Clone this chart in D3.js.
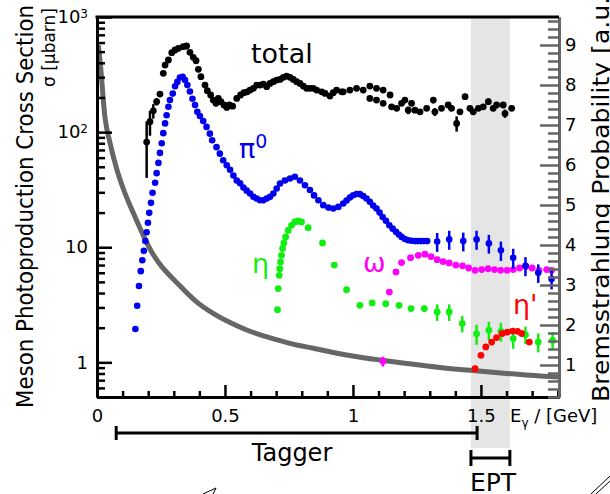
<!DOCTYPE html>
<html>
<head>
<meta charset="utf-8">
<script src="https://cdn.jsdelivr.net/npm/d3@7"></script>
<style>
  body { margin: 0; background: #fff; }
  text { font-family: "DejaVu Sans", sans-serif; }
</style>
</head>
<body>
<svg id="chart" width="610" height="494"></svg>
<script>
// DATA (E in GeV, sigma in microbarn)
const totalE = [0.194,0.207,0.220,0.233,0.246,0.259,0.266,0.279,0.292,0.305,0.318,0.337,0.350,0.363,0.376,0.387,0.396,0.406,0.422,0.431,0.444,0.454,0.465,0.474,0.484,0.496,0.507,0.517,0.530,0.546,0.561,0.574,0.587,0.598,0.611,0.624,0.637,0.650,0.663,0.676,0.689,0.702,0.715,0.728,0.741,0.754,0.767,0.780,0.793,0.806,0.819,0.832,0.845,0.858,0.878,0.891,0.910,0.923,0.936,0.956,0.962,0.988,1.014,1.040,1.066,1.066,1.092,1.092,1.118,1.118,1.145,1.151,1.171,1.190,1.203,1.216,1.229,1.242,1.262,1.288,1.314,1.320,1.346,1.372,1.385,1.405,1.418,1.438,1.457,1.470,1.490,1.509,1.529,1.548,1.561,1.587,1.594,1.620];
const totalS = [82,123,153,184,214,324,382,423,490,517,534,552,560,493,446,417,351,303,256,229,210,190,178,196,184,172,164,172,168,196,210,220,224,232,240,256,256,261,248,265,274,283,287,299,307,299,287,274,265,251,240,240,240,232,224,217,206,220,232,224,224,232,240,232,251,196,240,190,232,178,210,166,161,178,190,155,178,155,150,161,190,150,161,172,161,119,150,203,161,150,161,166,184,161,172,172,145,161];
const totalErr = [42,30,22,14,10,12,12,12,14,14,14,14,14,14,12,12,10,10,8,8,8,8,8,8,8,8,8,8,8,8,8,8,8,8,8,8,8,8,8,8,8,8,8,8,8,8,8,8,8,8,8,8,8,8,8,8,8,8,8,8,8,8,8,8,8,8,8,8,8,8,8,8,8,8,8,12,8,8,8,8,12,12,8,8,8,18,8,12,8,8,8,8,12,8,8,8,12,8];

const pi0E = [0.150,0.157,0.164,0.171,0.177,0.183,0.189,0.194,0.199,0.204,0.211,0.217,0.227,0.233,0.240,0.246,0.253,0.259,0.266,0.272,0.279,0.285,0.296,0.305,0.314,0.324,0.335,0.344,0.353,0.363,0.373,0.383,0.392,0.402,0.415,0.428,0.441,0.450,0.467,0.480,0.493,0.507,0.520,0.533,0.546,0.559,0.572,0.585,0.598,0.611,0.624,0.637,0.650,0.663,0.676,0.689,0.702,0.715,0.734,0.754,0.773,0.793,0.8125,0.832,0.848,0.865,0.884,0.904,0.923,0.943,0.962,0.975,0.988,1.001,1.014,1.027,1.040,1.053,1.066,1.079,1.092,1.104,1.116,1.129,1.142,1.155,1.168,1.179,1.190,1.203,1.216,1.229,1.242,1.253,1.264,1.277,1.290,1.329,1.376,1.431,1.483,1.531,1.578,1.626,1.674,1.724,1.776];
const pi0S = [1.95,3.1,4.6,6.2,7.7,9.3,11.3,13.5,16.3,19.9,24.3,29.7,36.3,44,54,66,80,98,119,140,166,190,216,250,273,298,302,284,256,225,195,172,150,138,125,111,97,85,74,65,57,51.5,47,42,38,36,33,31,29.3,27.4,26.5,25.6,25.6,26.5,27.4,29.3,32.4,35.8,38,39.6,41,38,34.6,31.4,28.2,25.6,23.2,22.1,21.7,22.4,24,25.5,27,28.3,29,28.9,27.8,26.5,24.8,23,21.7,20,18.3,17,15.5,14.5,13.6,12.9,12.3,11.8,11.5,11.4,11.3,11.3,11.3,11.3,11.3,11.2,11.7,11.3,11.7,10.8,9.4,8.1,6.9,6.0,5.3];
const pi0Err = [0,0,0,0,0,0,0,0,0,0,0,0,0,0,0,0,0,0,0,0,0,0,0,0,0,0,0,0,0,0,0,0,0,0,0,0,0,0,0,0,0,0,0,0,0,0,0,0,0,0,0,0,0,0,0,0,0,0,0,0,0,0,0,0,0,0,0,0,0,0,0,0,0,0,0,0,0,0,0,0,0,0,0,0,0,0,0,0,0,0,0,0,0,0,0,0,0,2.1,2.2,2.1,2.2,2.0,1.8,1.6,1.3,1.1,1.0];

const etaE = [0.705,0.708,0.712,0.714,0.717,0.721,0.725,0.730,0.737,0.747,0.760,0.773,0.786,0.799,0.825,0.881,0.927,0.975,1.027,1.075,1.128,1.180,1.227,1.279,1.329,1.376,1.427,1.483,1.531,1.578,1.626,1.674,1.724,1.780];
const etaS = [2.87,4.37,5.7,6.5,7.45,8.5,9.75,10.9,12.3,14.0,15.5,16.6,16.9,16.6,14.8,10.9,7.0,4.28,3.13,3.28,3.23,3.13,2.93,2.93,2.74,2.74,2.17,1.77,1.90,1.86,1.61,1.74,1.50,1.55];
const etaErr = [0,0,0,0,0,0,0,0,0,0,0,0,0,0,0,0,0,0,0,0,0,0,0.15,0.2,0.45,0.45,0.35,0.35,0.35,0.35,0.3,0.3,0.28,0.28];

const omegaE = [1.117,1.142,1.168,1.190,1.225,1.255,1.281,1.305,1.329,1.352,1.376,1.402,1.428,1.452,1.477,1.503,1.528,1.553,1.577,1.602,1.626,1.651,1.676,1.700,1.727,1.757,1.776];
const omegaS = [1.02,4.08,6.1,7.35,8.1,8.5,8.7,8.3,7.8,7.5,7.3,7.0,6.9,6.6,6.3,6.4,6.5,6.4,6.3,6.3,6.4,6.6,6.8,6.6,6.3,6.4,6.3];
const omegaErr = [0.1,0,0,0,0,0,0,0,0,0,0,0,0,0,0,0,0,0,0,0,0,0,0.4,0,0,0,0];

const etapE = [1.477,1.500,1.519,1.542,1.561,1.583,1.603,1.624,1.643,1.659,1.689];
const etapS = [0.88,1.15,1.36,1.50,1.64,1.78,1.83,1.87,1.86,1.78,1.50];

// bremsstrahlung probability (right axis, a.u.)
const bremE = [0.005,0.012,0.031,0.051,0.077,0.103,0.142,0.207,0.324,0.389,0.454,0.520,0.585,0.650,0.715,0.780,0.845,0.910,0.975,1.040,1.105,1.210,1.340,1.470,1.600,1.730,1.805];
const bremP = [9.0,8.6,7.2,6.55,5.9,5.4,4.8,3.9,2.98,2.58,2.29,2.06,1.875,1.73,1.61,1.5,1.42,1.33,1.25,1.18,1.125,1.04,0.94,0.86,0.79,0.725,0.7];

const logTicks = [1, 10, 100, 1000];
const rightTicks = [1, 2, 3, 4, 5, 6, 7, 8, 9];
const xTicks = [0, 0.5, 1, 1.5];
const taggerRange = [0.075, 1.485];
const eptRange = [1.461, 1.613];

// LAYOUT
const svg = d3.select('#chart');
const pLeft = 97, pRight = 559, pTop = 17, pBottom = 397;

const x = d3.scaleLinear().domain([0, 1.805]).range([pLeft, pRight]);
const y = d3.scaleLog().domain([0.5, 1000]).range([pBottom, pTop]);
const y2 = d3.scaleLinear().domain([0.2, 9.7]).range([pBottom, pTop]);

// EPT band
svg.append('rect')
	.attr('x', x(eptRange[0]))
	.attr('y', pTop)
	.attr('width', x(eptRange[1]) - x(eptRange[0]))
	.attr('height', 448 - pTop)
	.attr('fill', '#e5e5e5');

svg.append('clipPath').attr('id', 'clip')
	.append('rect')
	.attr('x', pLeft).attr('y', pTop)
	.attr('width', pRight - pLeft).attr('height', pBottom - pTop);

// bremsstrahlung curve
svg.append('path')
	.datum(bremE.map((e, i) => [e, bremP[i]]))
	.attr('clip-path', 'url(#clip)')
	.attr('fill', 'none')
	.attr('stroke', '#666')
	.attr('stroke-width', 5)
	.attr('d', d3.line().x(d => x(d[0])).y(d => y2(d[1])).curve(d3.curveMonotoneX));

// series
function drawSeries(es, ss, errs, color, r) {
	let pts = es.map((e, i) => ({e: e, s: ss[i], err: errs ? errs[i] : 0}));
	let g = svg.append('g').attr('clip-path', 'url(#clip)');
	g.selectAll('line')
		.data(pts.filter(d => d.err > 0))
		.enter().append('line')
		.attr('x1', d => x(d.e)).attr('x2', d => x(d.e))
		.attr('y1', d => y(d.s + d.err)).attr('y2', d => y(Math.max(d.s - d.err, 0.51)))
		.attr('stroke', color)
		.attr('stroke-width', 2.5);
	g.selectAll('circle')
		.data(pts)
		.enter().append('circle')
		.attr('cx', d => x(d.e))
		.attr('cy', d => y(d.s))
		.attr('r', r)
		.attr('fill', color);
}

drawSeries(etaE, etaS, etaErr, '#11ee11', 3.4);
drawSeries(omegaE, omegaS, omegaErr, '#ff00ff', 3.4);
drawSeries(etapE, etapS, null, '#ff0000', 3.4);
drawSeries(pi0E, pi0S, pi0Err, '#0000ee', 3.3);
drawSeries(totalE, totalS, totalErr, '#000000', 3.4);

// AXES
function styleAxis(g, color) {
	g.select('.domain').attr('stroke', color).attr('stroke-width', 3);
	g.selectAll('.tick line').attr('stroke', color).attr('stroke-width', 2.5);
	g.selectAll('.tick text').attr('fill', '#000').style('font-size', '18px');
}

// bottom
let xMinor = d3.range(0, 1.81, 0.1).filter(v => xTicks.every(t => Math.abs(t - v) > 1e-6));
svg.append('g').attr('transform', `translate(0,${pBottom})`)
	.call(d3.axisBottom(x).tickValues(xMinor).tickSize(-6).tickSizeOuter(0).tickFormat(''))
	.call(g => styleAxis(g, '#000'));
svg.append('g').attr('transform', `translate(0,${pBottom})`)
	.call(d3.axisBottom(x).tickValues(xTicks).tickSize(-12).tickSizeOuter(0).tickPadding(12).tickFormat(d3.format('')))
	.call(g => styleAxis(g, '#000'));

// left
let yMinor = [];
[0.1, 1, 10, 100].forEach(dec => d3.range(2, 10).forEach(k => {
	let v = dec * k;
	if (v >= 0.5 && v <= 1000) yMinor.push(v);
}));
svg.append('g').attr('transform', `translate(${pLeft},0)`)
	.call(d3.axisLeft(y).tickValues(yMinor).tickSize(-8).tickSizeOuter(0).tickFormat(''))
	.call(g => styleAxis(g, '#000'));
let yAxis = svg.append('g').attr('transform', `translate(${pLeft},0)`)
	.call(d3.axisLeft(y).tickValues(logTicks).tickSize(-15).tickSizeOuter(0).tickPadding(9).tickFormat(''))
	.call(g => styleAxis(g, '#000'));
yAxis.selectAll('.tick text').each(function(d) {
	let t = d3.select(this);
	let p = Math.round(Math.log10(d));
	if (p < 2) {
		t.text(String(d));
	} else {
		t.text('10');
		t.append('tspan').attr('dy', '-0.45em').style('font-size', '12px').text(String(p));
	}
});

// right
let rMinor = d3.range(0.2, 9.71, 0.2).filter(v => Math.abs(v - Math.round(v)) > 1e-6);
svg.append('g').attr('transform', `translate(${pRight},0)`)
	.call(d3.axisRight(y2).tickValues(rMinor).tickSize(-11).tickSizeOuter(0).tickFormat(''))
	.call(g => styleAxis(g, '#666'));
svg.append('g').attr('transform', `translate(${pRight},0)`)
	.call(d3.axisRight(y2).tickValues(rightTicks).tickSize(-19).tickSizeOuter(0).tickPadding(6).tickFormat(d3.format('d')))
	.call(g => styleAxis(g, '#666'));

// top border
svg.append('line')
	.attr('x1', pLeft - 1.5).attr('x2', pRight)
	.attr('y1', pTop).attr('y2', pTop)
	.attr('stroke', '#000').attr('stroke-width', 3);

// AXIS TITLES
svg.append('text')
	.attr('transform', 'translate(33,408) rotate(-90)')
	.attr('textLength', 403).attr('lengthAdjust', 'spacingAndGlyphs')
	.style('font-size', '23px')
	.text('Meson Photoproduction Cross Section');
svg.append('text')
	.attr('transform', 'translate(55,87) rotate(-90)')
	.style('font-size', '17px')
	.text('σ [μbarn]');
svg.append('text')
	.attr('transform', 'translate(609,402) rotate(-90)')
	.attr('textLength', 415).attr('lengthAdjust', 'spacingAndGlyphs')
	.style('font-size', '23px')
	.text('Bremsstrahlung Probability [a.u.]');

let xl = svg.append('text').attr('x', 510).attr('y', 422).style('font-size', '18px');
xl.append('tspan').text('E');
xl.append('tspan').attr('dy', 5).style('font-size', '12px').text('γ');
xl.append('tspan').attr('dy', -5).text(' / [GeV]');

// SERIES LABELS
svg.append('text').attr('x', 251).attr('y', 63).style('font-size', '27px').attr('fill', '#000').text('total');
let pl = svg.append('text').attr('x', 239).attr('y', 158).style('font-size', '27px').attr('fill', '#0000ee');
pl.append('tspan').text('π');
pl.append('tspan').attr('dy', -10).style('font-size', '19px').text('0');
svg.append('text').attr('x', 252).attr('y', 273).style('font-size', '27px').attr('fill', '#11ee11').text('η');
svg.append('text').attr('x', 363).attr('y', 272).style('font-size', '27px').attr('fill', '#ff00ff').text('ω');
svg.append('text').attr('x', 513).attr('y', 314).style('font-size', '27px').attr('fill', '#ff0000').text('η\'');

// DETECTOR RANGES
function rangeBar(r, yy, capH, label, lx, ly, anchor, size) {
	let g = svg.append('g').attr('stroke', '#000').attr('stroke-width', 3);
	g.append('line').attr('x1', x(r[0])).attr('x2', x(r[1])).attr('y1', yy).attr('y2', yy);
	g.append('line').attr('x1', x(r[0])).attr('x2', x(r[0])).attr('y1', yy - capH).attr('y2', yy + capH);
	g.append('line').attr('x1', x(r[1])).attr('x2', x(r[1])).attr('y1', yy - capH).attr('y2', yy + capH);
	svg.append('text').attr('x', lx).attr('y', ly).attr('text-anchor', anchor)
		.style('font-size', size).text(label);
}
rangeBar(taggerRange, 433, 7, 'Tagger', 292, 461, 'middle', '24px');
rangeBar(eptRange, 458, 8, 'EPT', 470, 491, 'start', '25px');

// cropped decorations at the bottom edge
svg.append('path').attr('d', 'M203,494 L216,488 L213,494').attr('fill', 'none').attr('stroke', '#000').attr('stroke-width', 1);
svg.append('line').attr('x1', 591).attr('y1', 494).attr('x2', 610).attr('y2', 476).attr('stroke', '#000').attr('stroke-width', 1);
svg.append('line').attr('x1', 596).attr('y1', 494).attr('x2', 610).attr('y2', 481).attr('stroke', '#000').attr('stroke-width', 1);
</script>
</body>
</html>
